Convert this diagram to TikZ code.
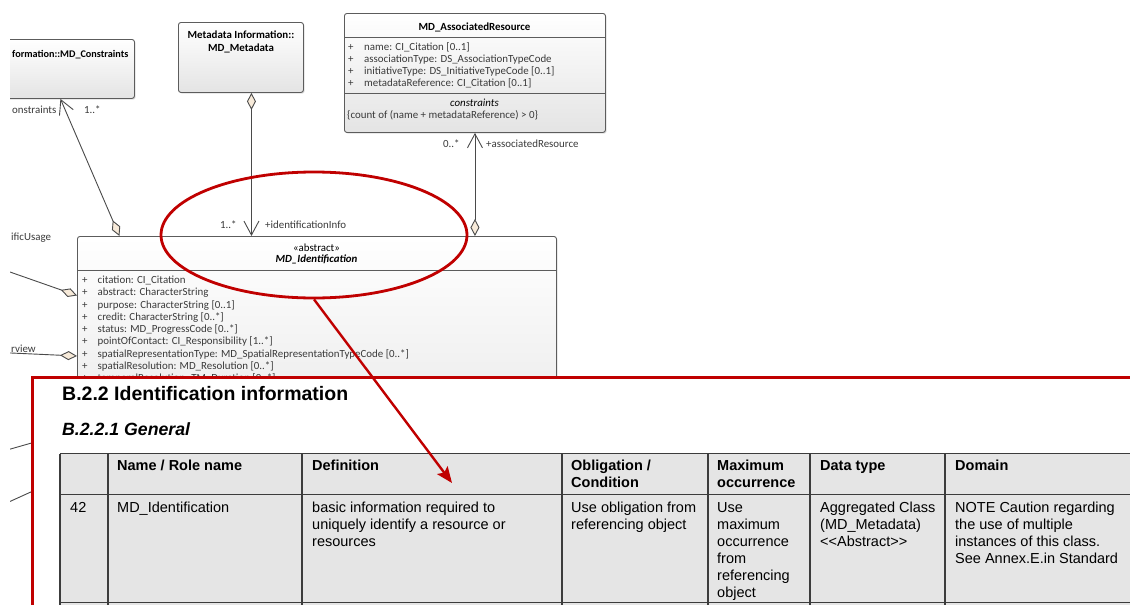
\documentclass[tikz,border=0pt]{standalone}
\usepackage{fontspec}
\newfontfamily\umlfont{Carlito}
\newfontfamily\docfont{Liberation Sans}
\usetikzlibrary{arrows.meta,shapes.geometric,calc,shadows}

\definecolor{boxedge}{HTML}{5C5C5C}
\definecolor{boxfill}{HTML}{E4E4E4}
\definecolor{umltext}{HTML}{3A3A3A}
\definecolor{conn}{HTML}{4A4A4A}
\definecolor{diam}{HTML}{F7EAD9}
\definecolor{hl}{HTML}{C00000}
\definecolor{cellgray}{HTML}{E5E5E5}
\definecolor{gridline}{HTML}{3C3C3C}

% lines of a table cell, one node per line, 17pt apart
\newcommand\celllines[4]{%
  \foreach \ln [count=\k from 0] in {#4} {%
    \node[#1] (#2-\k) at (#3, {\cellbase+17*\k}) {\ln};}}

\begin{document}
\begin{tikzpicture}[x=1pt,y=-1pt,
  umlbox/.style={draw=boxedge, line width=0.9pt, rounded corners=2.5pt,
    top color=white, bottom color=boxfill, inner sep=0pt, anchor=north west,
    drop shadow={shadow xshift=1.2pt, shadow yshift=-1.2pt, opacity=0.25}},
  umltitle/.style={font=\umlfont\bfseries\fontsize{10.9}{12}\selectfont,
    text=black, inner sep=0pt, anchor=base},
  umlattr/.style={font=\umlfont\fontsize{10.9}{12}\selectfont,
    text=umltext, inner sep=0pt, anchor=base west},
  umllabel/.style={font=\umlfont\fontsize{10.9}{12}\selectfont,
    text=umltext, inner sep=0pt, anchor=base west},
  sep/.style={draw=boxedge, line width=0.8pt},
  assocline/.style={draw=conn, line width=0.9pt},
  doc/.style={font=\docfont\fontsize{14.5}{17}\selectfont, text=black,
    inner sep=0pt, anchor=base west},
  dochead/.style={doc, font=\docfont\bfseries\fontsize{14.5}{17}\selectfont},
  grid/.style={draw=gridline, line width=1.1pt},
]
\tikzset{
  barb/.tip={Straight Barb[length=14pt,width=15pt]},
  agg/.tip={Diamond[length=17pt,width=9pt,fill=diam]},
}
\useasboundingbox (0,0) rectangle (1130,605);
\fill[white] (0,0) rectangle (1130,605);
\clip (10,0) rectangle (1130,605);

% ---------- class boxes ----------
\node[umlbox, minimum width=160pt, minimum height=59pt] (cons) at (-26,39) {};
\node[umltitle, anchor=base west, font=\umlfont\bfseries\fontsize{10.2}{12}\selectfont] (consT) at (12,57.5) {formation::MD\_Constraints};

\node[umlbox, minimum width=125pt, minimum height=70pt] (meta) at (178,22) {};
\node[umltitle] (metaT1) at (241,38.5) {Metadata Information::};
\node[umltitle] (metaT2) at (241,51.5) {MD\_Metadata};

\node[umlbox, minimum width=261pt, minimum height=119pt] (assoc) at (344,13) {};
\node[umltitle] (assocT) at (474.5,30) {MD\_AssociatedResource};
\draw[sep] (344,37) -- (605,37);
\foreach \t [count=\i from 0] in {{name: CI\_Citation [0..1]},
    {associationType: DS\_AssociationTypeCode},
    {initiativeType: DS\_InitiativeTypeCode [0..1]},
    {metadataReference: CI\_Citation [0..1]}}
  \node[umlattr] (assocA\i) at (348,{50.5+12.1*\i}) {\makebox[16pt][l]{+}\t};
\draw[sep] (344,93) -- (605,93);
\node[umltitle, font=\umlfont\itshape\fontsize{10.9}{12}\selectfont] (assocC) at (474.5,106.5) {constraints};
\node[umlattr] (assocR) at (347,118.5) {\{count of (name + metadataReference) > 0\}};

\node[umlbox, minimum width=479pt, minimum height=250pt] (ident) at (77,236) {};
\node[umltitle, font=\umlfont\fontsize{10.9}{12}\selectfont] (identS) at (316.5,251.5) {«abstract»};
\node[umltitle, font=\umlfont\bfseries\itshape\fontsize{10.9}{12}\selectfont] (identT) at (316.5,262.8) {MD\_Identification};
\draw[sep] (77,270) -- (556,270);
\foreach \t [count=\i from 0] in {{citation: CI\_Citation},
    {abstract: CharacterString},
    {purpose: CharacterString [0..1]},
    {credit: CharacterString [0..*]},
    {status: MD\_ProgressCode [0..*]},
    {pointOfContact: CI\_Responsibility [1..*]},
    {spatialRepresentationType: MD\_SpatialRepresentationTypeCode [0..*]},
    {spatialResolution: MD\_Resolution [0..*]},
    {temporalResolution: TM\_Duration [0..*]}}
  \node[umlattr] (identA\i) at (82,{283.6+12.25*\i}) {\makebox[15.5pt][l]{+}\t};

% ---------- associations ----------
\draw[assocline, barb-agg] ([xshift=6pt]cons.south) -- ([xshift=-197.5pt]ident.north);
\draw[assocline, agg-barb] ([xshift=10.5pt]meta.south) -- ([xshift=10.5pt]meta.south |- ident.north);
\draw[assocline, barb-agg] (assoc.south) -- (assoc.south |- ident.north);

\coordinate (usageEnd) at (0,268.5);
\coordinate (overviewEnd) at (0,352.5);
\coordinate (lowEndA) at (0,452);
\coordinate (lowEndB) at (0,506);
\draw[assocline, -agg] (usageEnd) -- ([yshift=-59.5pt]ident.north west);
\draw[assocline, -agg] (overviewEnd) -- ([yshift=-120pt]ident.north west);
\draw[assocline, -agg] (lowEndA) -- ([yshift=-194pt]ident.north west);
\draw[assocline, -agg] (lowEndB) -- ([yshift=-235pt]ident.north west);

% role names and multiplicities
\node[umllabel] (lConsRole) at (12,113.5) {onstraints};
\node[umllabel] (lConsMult) at (84,113.5) {1..*};
\node[umllabel] (lIdMult) at (220,228.5) {1..*};
\node[umllabel] (lIdRole) at (265,228.5) {+identificationInfo};
\node[umllabel] (lArMult) at (443,147) {0..*};
\node[umllabel] (lArRole) at (486,147.5) {+associatedResource};
\node[umllabel] (lUsage) at (11,240.5) {ificUsage};
\node[umllabel] (lOverview) at (11,352.5) {rview};

% ---------- highlight ellipse ----------
\node[ellipse, draw=hl, line width=2.8pt, minimum width=306pt,
  minimum height=126pt, inner sep=0pt] (focus) at (314,235) {};

% ---------- document excerpt ----------
\draw[hl, line width=3pt, fill=white] (32,377) rectangle (1150,625);

\node[doc, font=\docfont\bfseries\fontsize{19.5}{22}\selectfont] (h1) at (62,400) {B.2.2 Identification information};
\node[doc, font=\docfont\bfseries\itshape\fontsize{17.7}{20}\selectfont] (h2) at (62,435.5) {B.2.2.1 General};

\fill[cellgray] (60,453.5) rectangle (1150,625);
\draw[grid] (60,453.5) -- (1150,453.5);
\draw[grid] (60,494.5) -- (1150,494.5);
\draw[grid] (60,602.5) -- (1150,602.5);
\foreach \cx in {60,108,302,562,708,810,945}
  \draw[grid] (\cx,453.5) -- (\cx,625);

\def\cellbase{470.5}
\celllines{dochead}{hName}{117}{Name / Role name}
\celllines{dochead}{hDef}{312}{Definition}
\celllines{dochead}{hObl}{571}{Obligation /, Condition}
\celllines{dochead}{hMax}{717}{Maximum, occurrence}
\celllines{dochead}{hType}{820}{Data type}
\celllines{dochead}{hDom}{955}{Domain}

\def\cellbase{512}
\celllines{doc}{cNum}{70}{42}
\celllines{doc}{cName}{117}{MD\_Identification}
\celllines{doc}{cDef}{312}{basic information required to, uniquely identify a resource or, resources}
\celllines{doc}{cObl}{571}{Use obligation from, referencing object}
\celllines{doc}{cMax}{717}{Use, maximum, occurrence, from, referencing, object}
\celllines{doc}{cType}{820}{Aggregated Class, (MD\_Metadata), <{}<Abstract>{}>}
\celllines{doc}{cDom}{955}{NOTE Caution regarding, the use of multiple, instances of this class., See Annex.E.in Standard}

% ---------- pointer from the class to its table entry ----------
\coordinate (pointAt) at (452,483);
\draw[hl, line width=2.4pt, -{Stealth[length=16pt,width=13pt,inset=3pt]}] (focus.south) -- (pointAt);
\end{tikzpicture}
\end{document}
